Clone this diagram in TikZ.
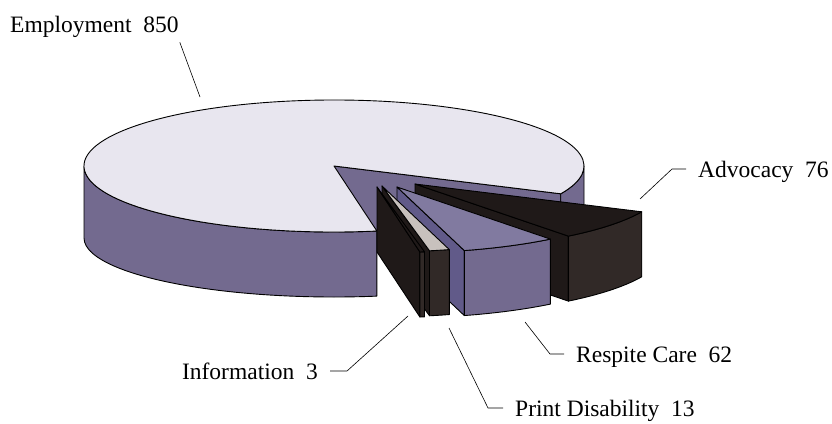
\documentclass[tikz,border=0pt]{standalone}
\usepackage{fontspec}
\setmainfont{Liberation Serif}
\usepackage{tikz}
\usetikzlibrary{calc}
\definecolor{pietop}{HTML}{E8E6EF}
\definecolor{pieside}{HTML}{736A8F}
\definecolor{darktop}{HTML}{1F1918}
\definecolor{darkside}{HTML}{312927}
\definecolor{violettop}{HTML}{817AA0}
\definecolor{violetcut}{HTML}{615A89}
\definecolor{greytop}{HTML}{C8C1BD}

\begin{document}
\begin{tikzpicture}[
  x=1pt, y=-1pt,
  x radius=250, y radius=66,
  face/.style={draw=black, line width=0.9pt, line join=round},
  leader/.style={draw=black, line width=0.6pt},
  lbl/.style={
    font=\fontsize{23.5}{28}\selectfont, inner sep=0pt, inner xsep=12pt,
    text height=16pt, text depth=0pt,
  },
]
\useasboundingbox (0,0) rectangle (832,423);

% Main slice - Employment
\coordinate (M) at (334,166);
\filldraw[face, fill=pieside] (M) -- ++(24.9:250 and 66) -- ++(0,65) -- ++(204.9:250 and 66) -- cycle;
\filldraw[face, fill=pieside] (M) ++(80.12:250 and 66) arc[start angle=80.12, end angle=180] -- ++(0,72) arc[start angle=180, end angle=80.12, y radius=59] -- cycle;
\filldraw[face, fill=pieside] (M) ++(0:250 and 66) arc[start angle=0, end angle=24.9] -- ++(0,65) arc[start angle=24.9, end angle=0] -- cycle;
\filldraw[face, fill=pietop] (M) -- ++(80.12:250 and 66) arc[start angle=80.12, end angle=384.9] -- cycle;

% Exploded slices - Advocacy
\coordinate (A) at (415,184);
\filldraw[face, fill=darktop] (A) -- ++(52.15:250 and 66) -- ++(0,65) -- ++(232.15:250 and 66) -- cycle;
\filldraw[face, fill=darkside] (A) ++(24.9:250 and 66) arc[start angle=24.9, end angle=52.15] -- ++(0,65) arc[start angle=52.15, end angle=24.9] -- cycle;
\filldraw[face, fill=darktop] (A) -- ++(24.9:250 and 66) arc[start angle=24.9, end angle=52.15] -- cycle;

% Respite Care
\coordinate (R) at (397,187);
\filldraw[face, fill=violetcut] (R) -- ++(74.38:250 and 66) -- ++(0,65) -- ++(254.38:250 and 66) -- cycle;
\filldraw[face, fill=pieside] (R) ++(52.15:250 and 66) arc[start angle=52.15, end angle=74.38] -- ++(0,65) arc[start angle=74.38, end angle=52.15] -- cycle;
\filldraw[face, fill=violettop] (R) -- ++(52.15:250 and 66) arc[start angle=52.15, end angle=74.38] -- cycle;

% Print Disability
\coordinate (P) at (382,186);
\filldraw[face, fill=darktop] (P) -- ++(79.04:250 and 66) -- ++(0,65) -- ++(259.04:250 and 66) -- cycle;
\filldraw[face, fill=darkside] (P) ++(74.38:250 and 66) arc[start angle=74.38, end angle=79.04] -- ++(0,65) arc[start angle=79.04, end angle=74.38] -- cycle;
\filldraw[face, fill=greytop] (P) -- ++(74.38:250 and 66) arc[start angle=74.38, end angle=79.04] -- cycle;

% Information
\coordinate (I) at (377,187);
\filldraw[face, fill=darktop] (I) -- ++(80.12:250 and 66) -- ++(0,65) -- ++(260.12:250 and 66) -- cycle;
\filldraw[face, fill=darkside] (I) ++(79.04:250 and 66) arc[start angle=79.04, end angle=80.12] -- ++(0,65) arc[start angle=80.12, end angle=79.04] -- cycle;
\filldraw[face, fill=darktop] (I) -- ++(79.04:250 and 66) arc[start angle=79.04, end angle=80.12] -- cycle;

% Labels
\node[lbl, anchor=south west, inner xsep=0pt] (emp) at (10,32.3) {Employment\ \ 850};
\node[lbl, anchor=west] (adv) at (686,169) {Advocacy\ \ 76};
\node[lbl, anchor=west] (res) at (564,354) {Respite Care\ \ 62};
\node[lbl, anchor=west] (prt) at (503,408) {Print Disability\ \ 13};
\node[lbl, anchor=east] (inf) at (330,371) {Information\ \ 3};

\coordinate (empTip) at (200,97);
\coordinate (advTip) at (640,199);
\coordinate (resTip) at (525,322);
\coordinate (prtTip) at (449,328);
\coordinate (infTip) at (408,316);

\draw[leader] (emp.south east) ++(1,10) -- (empTip);
\draw[leader] (advTip) -- ([xshift=-14pt]adv.west) -- (adv.west);
\draw[leader] (resTip) -- ([xshift=-14pt]res.west) -- (res.west);
\draw[leader] (prtTip) -- ([xshift=-15pt]prt.west) -- (prt.west);
\draw[leader] (infTip) -- ([xshift=17pt]inf.east) -- (inf.east);

\end{tikzpicture}
\end{document}
